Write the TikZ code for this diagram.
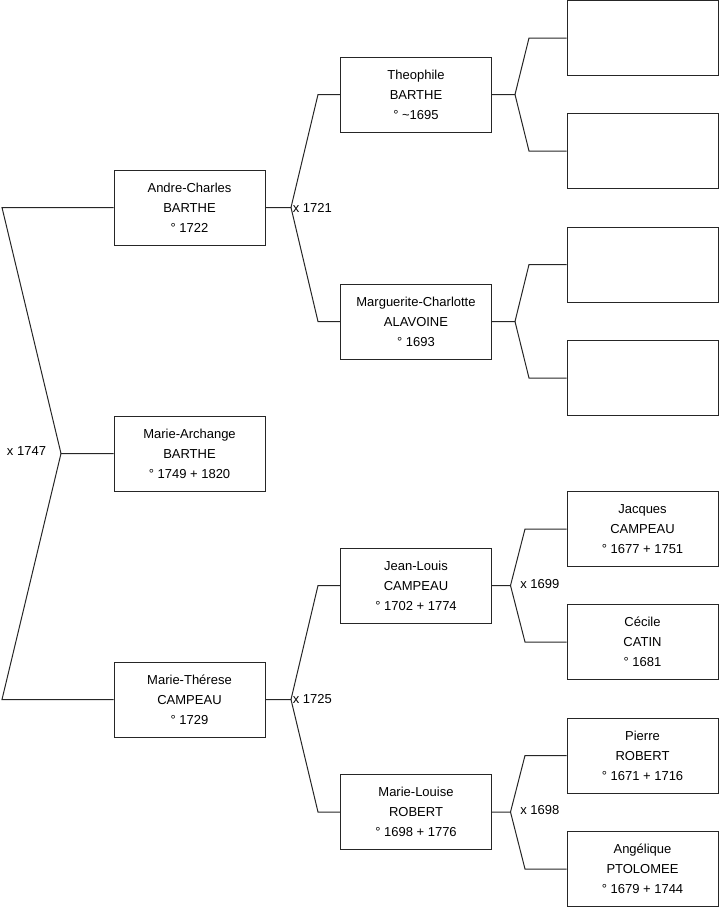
\documentclass[tikz,border=0pt]{standalone}
\usepackage{fontspec}
\setmainfont{Liberation Sans}
\begin{document}
\begin{tikzpicture}[x=0.75pt,y=-0.75pt,
  person/.style={draw=black!85, line width=0.75pt, rectangle, minimum width=113.25pt, minimum height=56.25pt,
    inner sep=0pt, align=center, font=\fontsize{9.75}{15}\selectfont},
  link/.style={draw=black!85, line width=0.75pt},
  mar/.style={inner sep=0pt, font=\fontsize{9.75}{12}\selectfont}]
\useasboundingbox (0,0) rectangle (719,908);
% column 1
\node[person] (ac) at (189.5,207.5) {Andre-Charles\\BARTHE\\° 1722};
\node[person] (ma) at (189.5,453.5) {Marie-Archange\\BARTHE\\° 1749 + 1820};
\node[person] (mt) at (189.5,699.5) {Marie-Thérese\\CAMPEAU\\° 1729};
% column 2
\node[person] (th) at (416,94.5) {Theophile\\BARTHE\\° \textasciitilde 1695};
\node[person] (mc) at (416,321.5) {Marguerite-Charlotte\\ALAVOINE\\° 1693};
\node[person] (jl) at (416,585.5) {Jean-Louis\\CAMPEAU\\° 1702 + 1774};
\node[person] (ml) at (416,812) {Marie-Louise\\ROBERT\\° 1698 + 1776};
% column 3
\node[person] (b1) at (642.5,38) {};
\node[person] (b2) at (642.5,151) {};
\node[person] (b3) at (642.5,264.5) {};
\node[person] (b4) at (642.5,378) {};
\node[person] (jc) at (642.5,529) {Jacques\\CAMPEAU\\° 1677 + 1751};
\node[person] (cc) at (642.5,642) {Cécile\\CATIN\\° 1681};
\node[person] (pr) at (642.5,755.5) {Pierre\\ROBERT\\° 1671 + 1716};
\node[person] (ap) at (642.5,869) {Angélique\\PTOLOMEE\\° 1679 + 1744};
% Marie-Archange -> parents
\coordinate (v0) at (61,453.5);
\coordinate (e0a) at (2,207.5);
\coordinate (e0b) at (2,699.5);
\draw[link] (ma.west) -- (v0) -- (e0a) -- (ac.west);
\draw[link] (v0) -- (e0b) -- (mt.west);
\node[mar] (m0) at (26.5,451.5) {x 1747};
% Andre-Charles -> parents
\coordinate (v1) at (291,207.5);
\coordinate (e1a) at (318,94.5);
\coordinate (e1b) at (318,321.5);
\draw[link] (ac.east) -- (v1) -- (e1a) -- (th.west);
\draw[link] (v1) -- (e1b) -- (mc.west);
\node[mar, anchor=west] (m1) at (292.5,207.5) {x 1721};
% Marie-Therese -> parents
\coordinate (v2) at (291,699.5);
\coordinate (e2a) at (318,585.5);
\coordinate (e2b) at (318,812);
\draw[link] (mt.east) -- (v2) -- (e2a) -- (jl.west);
\draw[link] (v2) -- (e2b) -- (ml.west);
\node[mar, anchor=west] (m2) at (292.5,699) {x 1725};
% Theophile -> parents
\coordinate (v3) at (515,94.5);
\coordinate (e3a) at (529,38);
\coordinate (e3b) at (529,151);
\draw[link] (th.east) -- (v3) -- (e3a) -- (b1.west);
\draw[link] (v3) -- (e3b) -- (b2.west);
% Marguerite -> parents
\coordinate (v4) at (515,321.5);
\coordinate (e4a) at (529,264.5);
\coordinate (e4b) at (529,378);
\draw[link] (mc.east) -- (v4) -- (e4a) -- (b3.west);
\draw[link] (v4) -- (e4b) -- (b4.west);
% Jean-Louis -> parents
\coordinate (v5) at (510.5,585.5);
\coordinate (e5a) at (525,529);
\coordinate (e5b) at (525,642);
\draw[link] (jl.east) -- (v5) -- (e5a) -- (jc.west);
\draw[link] (v5) -- (e5b) -- (cc.west);
\node[mar, anchor=west] (m5) at (520,584) {x 1699};
% Marie-Louise -> parents
\coordinate (v6) at (510.5,812);
\coordinate (e6a) at (525,755.5);
\coordinate (e6b) at (525,869);
\draw[link] (ml.east) -- (v6) -- (e6a) -- (pr.west);
\draw[link] (v6) -- (e6b) -- (ap.west);
\node[mar, anchor=west] (m6) at (520,810.5) {x 1698};
\end{tikzpicture}
\end{document}
